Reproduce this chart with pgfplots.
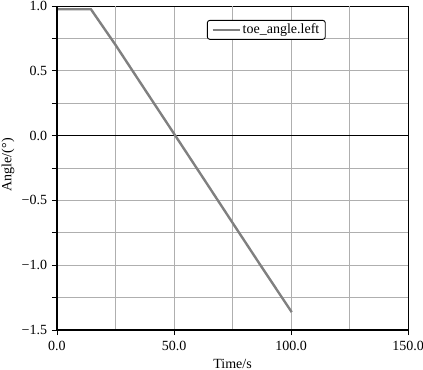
\documentclass[border=0pt]{standalone}
\usepackage{fontspec}
\setmainfont{Liberation Serif}
\usepackage{pgfplots}
\pgfplotsset{compat=1.18}
\definecolor{linegray}{RGB}{128,128,128}
\definecolor{gridgray}{RGB}{175,175,175}
\begin{document}
\fontsize{14bp}{17bp}\selectfont
\begin{tikzpicture}
\begin{axis}[
  scale only axis,
  width=351bp, height=324bp,
  xmin=0, xmax=150, ymin=-1.5, ymax=1.0,
  xtick={0,50,100,150},
  xticklabels={0.0,50.0,100.0,150.0},
  extra x ticks={25,75,125},
  extra x tick labels={},
  extra x tick style={grid=major, major tick length=0pt},
  ytick={-1.5,-1.0,-0.5,0,0.5,1.0},
  yticklabels={−1.5,−1.0,−0.5,0.0,0.5,1.0},
  minor ytick={-1.25,-0.75,-0.25,0.25,0.75},
  grid=both,
  major grid style={gridgray, line width=0.9bp},
  minor grid style={gridgray, line width=0.9bp},
  tick align=outside,
  major tick length=5bp,
  minor tick length=5bp,
  xtick pos=bottom, ytick pos=left,
  tick style={black, line width=0.9bp},
  axis line style={black, line width=0.9bp},
  tick label style={font=\fontsize{14bp}{17bp}\selectfont},
  xticklabel style={yshift=-1bp},
  label style={font=\fontsize{14bp}{17bp}\selectfont},
  xlabel={Time/s},
  ylabel={Angle/(°)},
  xlabel style={at={(rel axis cs:0.5,-0.104)}, anchor=center},
  ylabel style={at={(rel axis cs:-0.1396,0.51)}, anchor=center},
  legend style={at={(0.427,0.957)}, anchor=north west,
    draw=black, line width=0.9bp, rounded corners=2.5bp,
    font=\fontsize{14bp}{17bp}\selectfont,
    inner xsep=4bp, inner ysep=1.5bp},
  legend cell align=left,
  legend image code/.code={\draw[#1, line width=2.4bp] (0bp,0bp) -- (27bp,0bp);},
  extra y ticks={0},
  extra y tick labels={},
  extra y tick style={grid=major, major grid style={black, line width=1.1bp}, major tick length=0pt},
  clip=false,
]
\addplot[linegray, line width=2.4bp] coordinates {
  (0,0.975) (14.5,0.975) (25,0.70) (37.5,0.357) (50,0.015) (62.5,-0.328) (75,-0.672) (87.5,-1.015) (100.3,-1.362)
};
\addlegendentry{toe\_angle.left}
\end{axis}
\draw[black, line width=1.6bp] (0bp,324bp) -- (0bp,0bp) -- (351bp,0bp);
\pgfresetboundingbox
\useasboundingbox (-57bp,-40bp) rectangle (366bp,330bp);
\end{tikzpicture}
\end{document}
